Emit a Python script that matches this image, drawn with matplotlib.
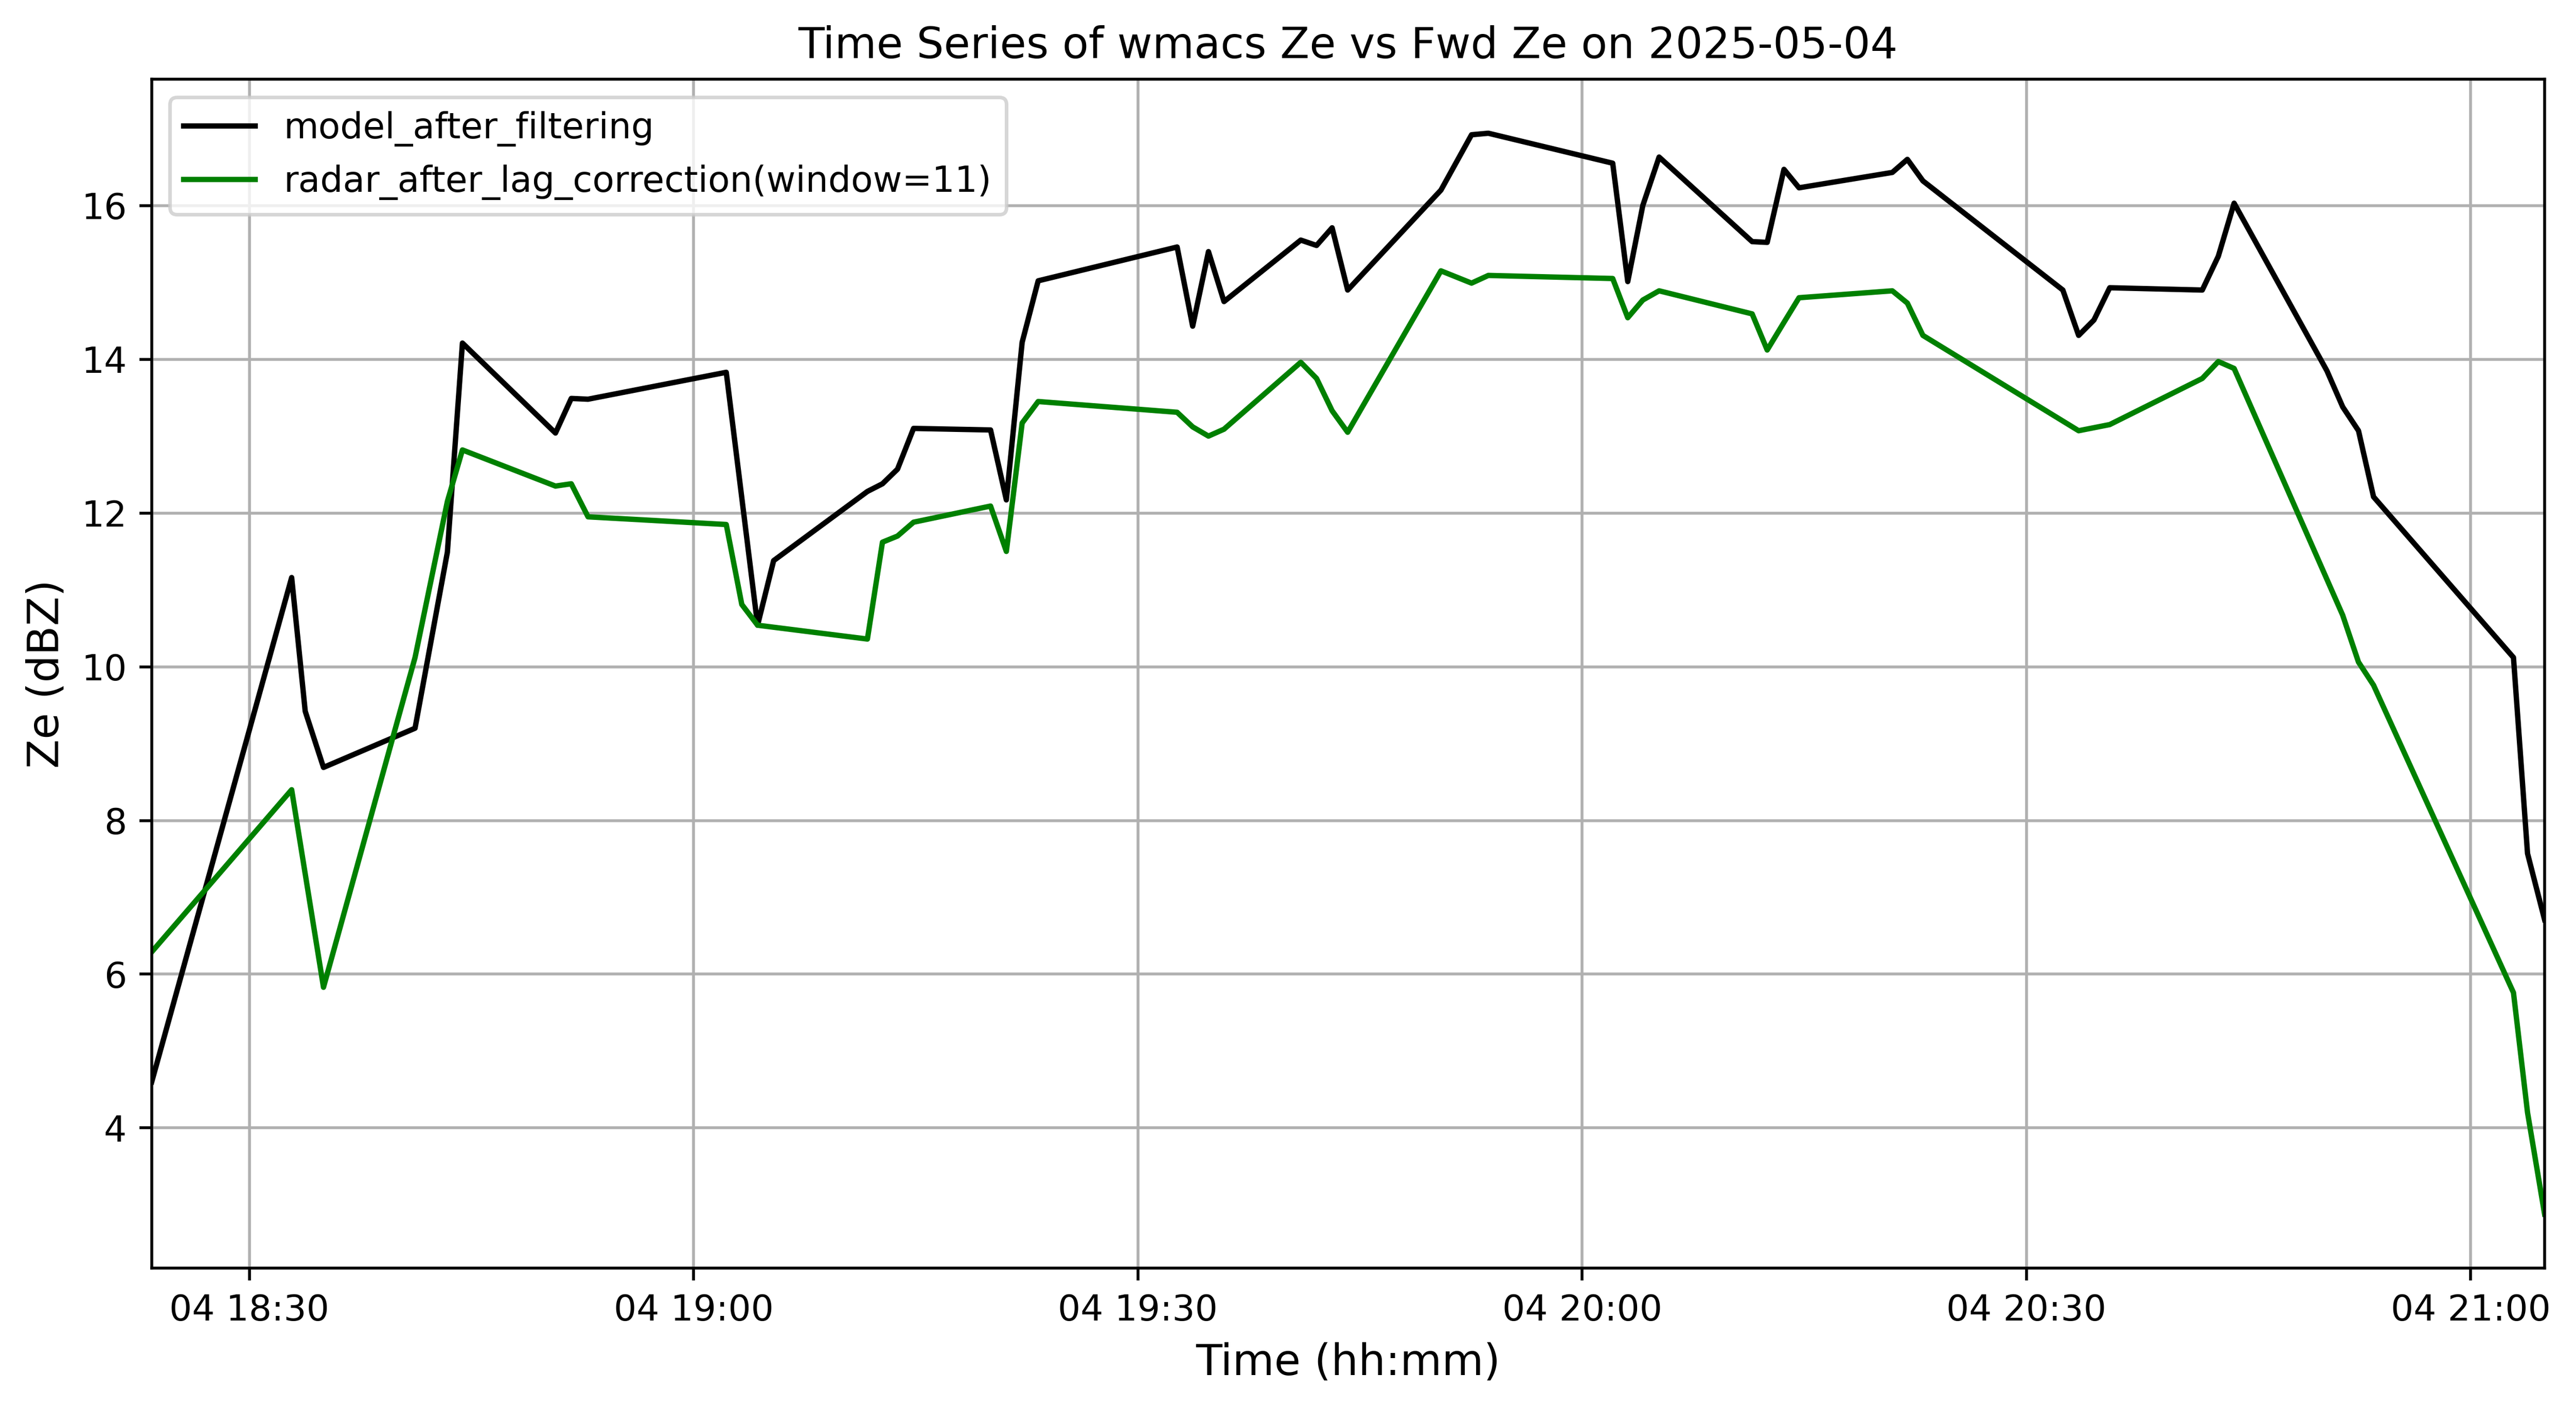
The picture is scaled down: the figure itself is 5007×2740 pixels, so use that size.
import pandas as pd
import matplotlib
matplotlib.use("Agg")
import matplotlib.pyplot as plt
import matplotlib.dates as mdates

DAY = "2025-05-04"

# model Ze (black)
model_times = ["18:23:24", "18:32:51", "18:33:46", "18:35:00", "18:41:11", "18:43:22",
               "18:44:23", "18:50:40", "18:51:44", "18:52:52", "19:02:12", "19:04:19",
               "19:05:24", "19:11:44", "19:12:45", "19:13:46", "19:14:51", "19:20:03",
               "19:21:07", "19:22:11", "19:23:16", "19:32:39", "19:33:42", "19:34:46",
               "19:35:49", "19:41:00", "19:42:04", "19:43:07", "19:44:10", "19:50:28",
               "19:52:32", "19:53:40", "20:02:04", "20:03:05", "20:04:06", "20:05:12",
               "20:11:29", "20:12:30", "20:13:38", "20:14:39", "20:20:57", "20:21:58",
               "20:23:01", "20:32:28", "20:33:32", "20:34:34", "20:35:38", "20:41:53",
               "20:42:58", "20:44:02", "20:50:18", "20:51:22", "20:52:26", "20:53:27",
               "21:02:54", "21:03:51", "21:05:00"]
model_ze = [4.60, 11.16, 9.42, 8.69, 9.20, 11.49,
            14.21, 13.04, 13.49, 13.48, 13.83, 10.54,
            11.38, 12.28, 12.38, 12.57, 13.10, 13.08,
            12.17, 14.22, 15.02, 15.46, 14.43, 15.40,
            14.75, 15.55, 15.48, 15.71, 14.90, 16.20,
            16.92, 16.94, 16.55, 15.01, 16.00, 16.63,
            15.53, 15.52, 16.47, 16.23, 16.43, 16.60,
            16.32, 14.90, 14.31, 14.51, 14.93, 14.90,
            15.34, 16.03, 13.85, 13.38, 13.07, 12.21,
            10.12, 7.57, 6.71]

# radar Ze after lag correction (green)
radar_times = ["18:23:24", "18:32:51", "18:35:00", "18:41:11", "18:43:22", "18:44:23",
               "18:50:40", "18:51:44", "18:52:52", "19:02:12", "19:03:15", "19:04:19",
               "19:11:44", "19:12:45", "19:13:46", "19:14:51", "19:20:03", "19:21:07",
               "19:22:11", "19:23:16", "19:32:39", "19:33:42", "19:34:46", "19:35:49",
               "19:41:00", "19:42:04", "19:43:07", "19:44:10", "19:50:28", "19:52:32",
               "19:53:40", "20:02:04", "20:03:05", "20:04:06", "20:05:12", "20:11:29",
               "20:12:30", "20:13:38", "20:14:39", "20:20:57", "20:21:58", "20:23:01",
               "20:33:32", "20:35:38", "20:41:53", "20:42:58", "20:44:02", "20:51:22",
               "20:52:26", "20:53:27", "21:02:54", "21:03:51", "21:05:00"]
radar_ze = [6.29, 8.40, 5.83, 10.12, 12.15, 12.82,
            12.35, 12.38, 11.95, 11.85, 10.81, 10.54,
            10.36, 11.62, 11.70, 11.88, 12.09, 11.50,
            13.17, 13.45, 13.31, 13.12, 13.00, 13.09,
            13.96, 13.75, 13.33, 13.05, 15.15, 14.99,
            15.09, 15.05, 14.54, 14.77, 14.89, 14.59,
            14.12, 14.48, 14.80, 14.89, 14.73, 14.31,
            13.07, 13.15, 13.75, 13.97, 13.88, 10.67,
            10.06, 9.76, 5.76, 4.20, 2.88]

t_model = pd.to_datetime([DAY + " " + t for t in model_times])
t_radar = pd.to_datetime([DAY + " " + t for t in radar_times])

fig = plt.figure(figsize=(10.014, 5.48), dpi=500)
ax = fig.add_subplot(111)
fig.subplots_adjust(left=0.0589, right=0.9878, bottom=0.100, top=0.9438)

ax.plot(t_model, model_ze, color="black", label="model_after_filtering")
ax.plot(t_radar, radar_ze, color="green", label="radar_after_lag_correction(window=11)")

ax.set_xlim(min(t_model[0], t_radar[0]), max(t_model[-1], t_radar[-1]))
ax.xaxis.set_major_locator(mdates.MinuteLocator(byminute=[0, 30]))
ax.xaxis.set_major_formatter(mdates.DateFormatter("%d %H:%M"))

ax.set_title("Time Series of wmacs Ze vs Fwd Ze on " + DAY)
ax.set_xlabel("Time (hh:mm)", fontsize=12)
ax.set_ylabel("Ze (dBZ)", fontsize=12)
ax.grid(True)
ax.legend(loc="upper left")

fig.savefig("out.png", dpi=500)
